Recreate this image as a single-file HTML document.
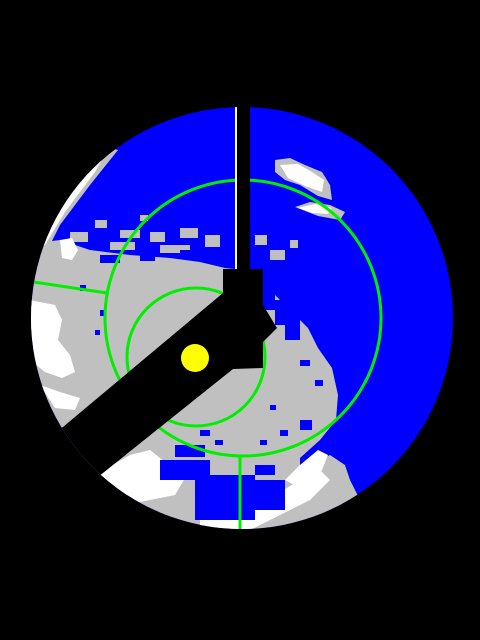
<!DOCTYPE html>
<html><head><meta charset="utf-8"><style>
html,body{margin:0;padding:0;background:#000;width:480px;height:640px;overflow:hidden}
svg{display:block}
</style></head><body>
<svg width="480" height="640" viewBox="0 0 480 640">
<defs><clipPath id="sky"><circle cx="242" cy="318" r="211"/></clipPath></defs>
<rect width="480" height="640" fill="#000"/>
<g clip-path="url(#sky)">
  <rect x="0" y="0" width="480" height="640" fill="#0000ff"/>
  <path fill="#c0c0c0" d="M20,245 L60,240 L90,250 L130,255 L170,258 L200,262 L225,268 L265,272 L275,295 L292,312 L308,328 L318,348 L332,368 L338,395 L336,420 L320,440 L300,458 L300,470 L330,455 L345,465 L350,480 L360,500 L380,520 L300,560 L80,560 L0,480 L0,245 Z"/>
  <g fill="#c0c0c0">
    <rect x="95" y="220" width="12" height="8"/><rect x="120" y="230" width="20" height="8"/><rect x="150" y="232" width="15" height="10"/>
    <rect x="180" y="228" width="18" height="10"/><rect x="205" y="235" width="15" height="12"/><rect x="110" y="242" width="25" height="8"/>
    <rect x="160" y="245" width="30" height="8"/><rect x="70" y="232" width="18" height="10"/><rect x="255" y="235" width="12" height="10"/>
    <rect x="270" y="250" width="15" height="10"/><rect x="290" y="240" width="8" height="8"/><rect x="140" y="215" width="8" height="6"/>
  </g>
  <path fill="#c0c0c0" d="M20,260 L40,225 L70,185 L110,148 L118,150 L90,185 L60,225 L45,255 Z"/>
  <path fill="#fff" d="M20,255 L40,222 L70,182 L110,146 L95,172 L65,212 L45,245 Z"/>
  <path fill="#fff" d="M30,300 L55,305 L62,320 L58,340 L70,355 L75,372 L62,378 L45,372 L30,360 Z"/>
  <path fill="#fff" d="M60,240 L72,238 L78,250 L72,260 L62,258 Z"/>
  <path fill="#fff" d="M40,385 L60,392 L80,398 L75,410 L55,408 Z"/>
  <path fill="#fff" d="M100,472 L130,455 L150,450 L165,462 L185,478 L175,495 L150,500 L125,505 L105,495 Z"/>
  <path fill="#fff" d="M200,520 L240,515 L270,498 L300,480 L320,470 L330,480 L310,500 L280,515 L250,530 L200,535 Z"/>
  <path fill="#fff" d="M285,480 L300,465 L318,450 L328,455 L320,475 L300,488 Z"/>
  <path fill="#c0c0c0" d="M275,160 L290,158 L305,165 L322,172 L330,185 L332,200 L318,196 L300,185 L285,180 L275,172 Z"/>
  <path fill="#fff" d="M280,165 L298,164 L312,172 L324,180 L322,192 L305,186 L288,178 Z"/>
  <path fill="#c0c0c0" d="M295,207 L310,202 L330,205 L345,212 L340,220 L318,216 Z"/>
  <path fill="#fff" d="M298,208 L315,204 L332,208 L328,214 L312,213 Z"/>
  <g fill="#0000ff">
    <rect x="160" y="460" width="50" height="20"/><rect x="195" y="475" width="60" height="45"/><rect x="245" y="480" width="40" height="30"/>
    <rect x="175" y="445" width="30" height="12"/><rect x="255" y="465" width="20" height="10"/>
    <rect x="200" y="430" width="10" height="6"/><rect x="215" y="440" width="8" height="5"/><rect x="260" y="440" width="7" height="5"/>
    <rect x="280" y="430" width="8" height="6"/><rect x="300" y="420" width="12" height="10"/><rect x="270" y="405" width="6" height="5"/>
    <rect x="100" y="255" width="20" height="8"/><rect x="140" y="255" width="15" height="6"/><rect x="180" y="250" width="20" height="8"/>
    <rect x="235" y="270" width="40" height="40"/><rect x="275" y="300" width="25" height="25"/><rect x="285" y="325" width="15" height="15"/>
    <rect x="330" y="340" width="8" height="8"/><rect x="300" y="360" width="10" height="6"/><rect x="315" y="380" width="8" height="6"/>
    <rect x="80" y="285" width="6" height="6"/><rect x="100" y="310" width="5" height="6"/><rect x="95" y="330" width="5" height="5"/>
  </g>
  <circle cx="243" cy="318" r="138" fill="none" stroke="#00ee00" stroke-width="3"/>
  <circle cx="196" cy="357" r="69" fill="none" stroke="#00ee00" stroke-width="3"/>
  <line x1="20" y1="280" x2="107" y2="293" stroke="#00ee00" stroke-width="3"/>
  <line x1="240" y1="456" x2="240" y2="540" stroke="#00ee00" stroke-width="3"/>
  <rect x="235" y="100" width="3" height="170" fill="#fff"/>
  <path fill="#000" d="M237,90 L250,90 L250,269 L263,269 L263,305 L277,328 L263,342 L263,368 L233,369 L103,473 L40,520 L0,470 L63,427 L223,293 L223,269 L237,269 Z"/>
  <circle cx="195" cy="358" r="14" fill="#ffff00"/>
</g>
</svg>
</body></html>
